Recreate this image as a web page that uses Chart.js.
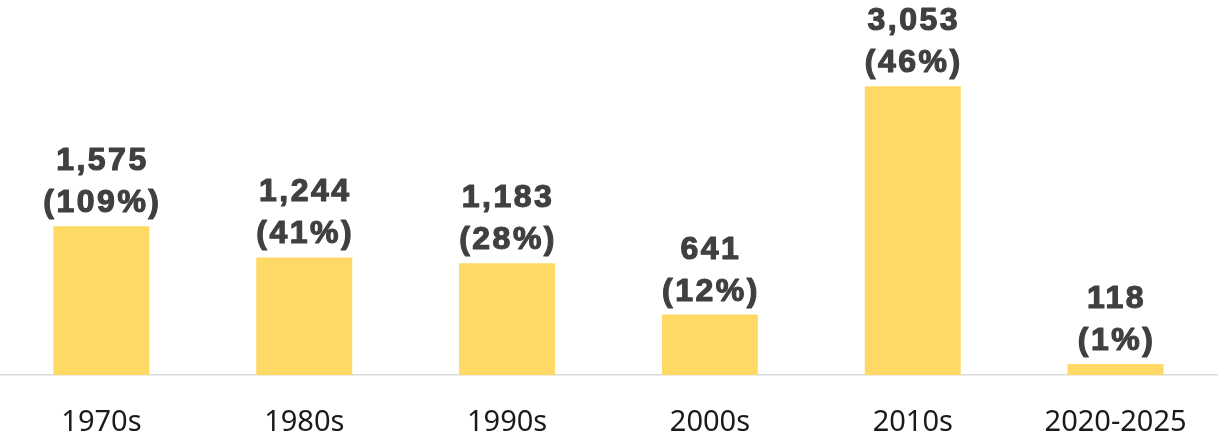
<!DOCTYPE html>
<html>
<head>
<meta charset="utf-8">
<script src="https://cdn.jsdelivr.net/npm/chart.js@4"></script>
<style>
  html, body { margin: 0; padding: 0; background: #fff; }
  #wrap { width: 1225px; height: 437px; }
</style>
</head>
<body>
<div id="wrap"><canvas id="myChart" width="1225" height="437"></canvas></div>
<script>
let decades = ['1970s', '1980s', '1990s', '2000s', '2010s', '2020-2025'];
let counts = [1575, 1244, 1183, 641, 3053, 118];
let shares = ['109%', '41%', '28%', '12%', '46%', '1%'];

// draws "count" and "(share)" above each bar
let barLabels = {
    id: 'barLabels',
    afterDatasetsDraw: function(chart) {
        let ctx = chart.ctx;
        let meta = chart.getDatasetMeta(0);
        ctx.save();
        ctx.fillStyle = '#404040';
        ctx.strokeStyle = '#404040';
        ctx.lineWidth = 1.2;
        ctx.lineJoin = 'round';
        ctx.font = 'bold 32px "Liberation Sans"';
        ctx.letterSpacing = '2.5px';
        ctx.textAlign = 'center';
        ctx.textBaseline = 'alphabetic';
        meta.data.forEach(function(bar, i) {
            let top = counts[i].toLocaleString('en-US');
            let bottom = '(' + shares[i] + ')';
            ctx.fillText(top, bar.x + 1, bar.y - 56);
            ctx.strokeText(top, bar.x + 1, bar.y - 56);
            ctx.fillText(bottom, bar.x + 1, bar.y - 14);
            ctx.strokeText(bottom, bar.x + 1, bar.y - 14);
        });
        ctx.restore();
    }
};

window.onload = function() {
    let ctx = document.getElementById('myChart').getContext('2d');
    new Chart(ctx, {
        type: 'bar',
        data: {
            labels: decades,
            datasets: [{
                data: counts,
                backgroundColor: '#FFD966',
                barPercentage: 0.473,
                categoryPercentage: 1
            }]
        },
        options: {
            responsive: false,
            animation: false,
            layout: { padding: { left: 0, right: 8, top: 0, bottom: -25 } },
            plugins: { legend: { display: false }, tooltip: { enabled: false } },
            scales: {
                x: {
                    grid: { display: false },
                    border: { display: true, color: '#d9d9d9', width: 1.5 },
                    ticks: {
                        color: '#1a1a1a',
                        padding: 22,
                        font: { family: '"Noto Sans"', size: 29 }
                    }
                },
                y: {
                    display: false,
                    min: 0,
                    max: 3965
                }
            }
        },
        plugins: [barLabels]
    });
};
</script>
</body>
</html>
